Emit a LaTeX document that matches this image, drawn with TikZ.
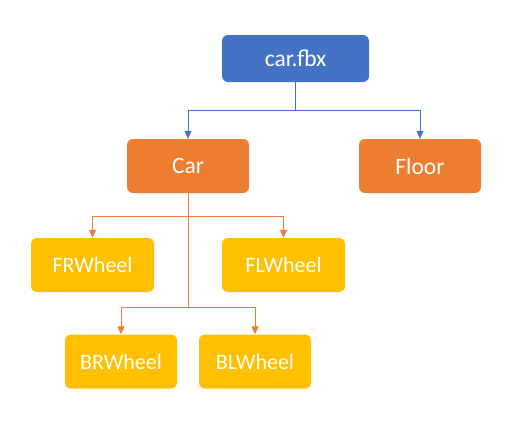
\documentclass[tikz,border=0pt]{standalone}
\usepackage{fontspec}
\setmainfont{Carlito}
\usepackage{tikz}
\usetikzlibrary{arrows.meta}
\usepackage{xcolor}
\definecolor{fbxblue}{HTML}{4472C4}
\definecolor{objorange}{HTML}{ED7D31}
\definecolor{wheelgold}{HTML}{FFC000}

\begin{document}
\begin{tikzpicture}[x=1pt, y=-1pt,
  every node/.style={rectangle, rounded corners=6pt, text=white, inner sep=0pt, align=center},
  filebox/.style={fill=fbxblue, minimum width=147pt, minimum height=47pt, font=\fontsize{23.5}{28}\selectfont},
  objbox/.style={fill=objorange, minimum width=122pt, minimum height=54pt, font=\fontsize{23.5}{28}\selectfont},
  wheelbox/.style={fill=wheelgold, minimum height=54pt, font=\fontsize{22}{26}\selectfont},
  bluelink/.style={draw=fbxblue, line width=1pt, -{Triangle[length=8pt, width=7pt]}},
  orangelink/.style={draw=objorange, line width=1pt, -{Triangle[length=8pt, width=7pt]}}]
  \useasboundingbox (0,0) rectangle (512,424);
  \node[filebox] (fbx) at (295.5,58.5) {car.fbx};
  \node[objbox] (car) at (188,166) {Car};
  \node[objbox] (floor) at (420,166) {Floor};
  \node[wheelbox, minimum width=123pt] (frwheel) at (92.5,265) {FRWheel};
  \node[wheelbox, minimum width=123pt] (flwheel) at (283.5,265) {FLWheel};
  \node[wheelbox, minimum width=112pt] (brwheel) at (121,361.5) {BRWheel};
  \node[wheelbox, minimum width=112pt] (blwheel) at (255,361.5) {BLWheel};
  \coordinate (fbxjoin) at (fbx.south |- 0,110);
  \coordinate (frontjoin) at (car.south |- 0,216);
  \coordinate (backjoin) at (car.south |- 0,307);
  % file to objects
  \draw[bluelink] (fbx.south) -- (fbxjoin) -| (car.north);
  \draw[bluelink] (fbxjoin) -| (floor.north);
  % car to wheels
  \draw[draw=objorange, line width=1pt] (car.south) -- (backjoin);
  \draw[orangelink] (frontjoin) -| (frwheel.north);
  \draw[orangelink] (frontjoin) -| (flwheel.north);
  \draw[orangelink] (backjoin) -| (brwheel.north);
  \draw[orangelink] (backjoin) -| (blwheel.north);
\end{tikzpicture}
\end{document}
